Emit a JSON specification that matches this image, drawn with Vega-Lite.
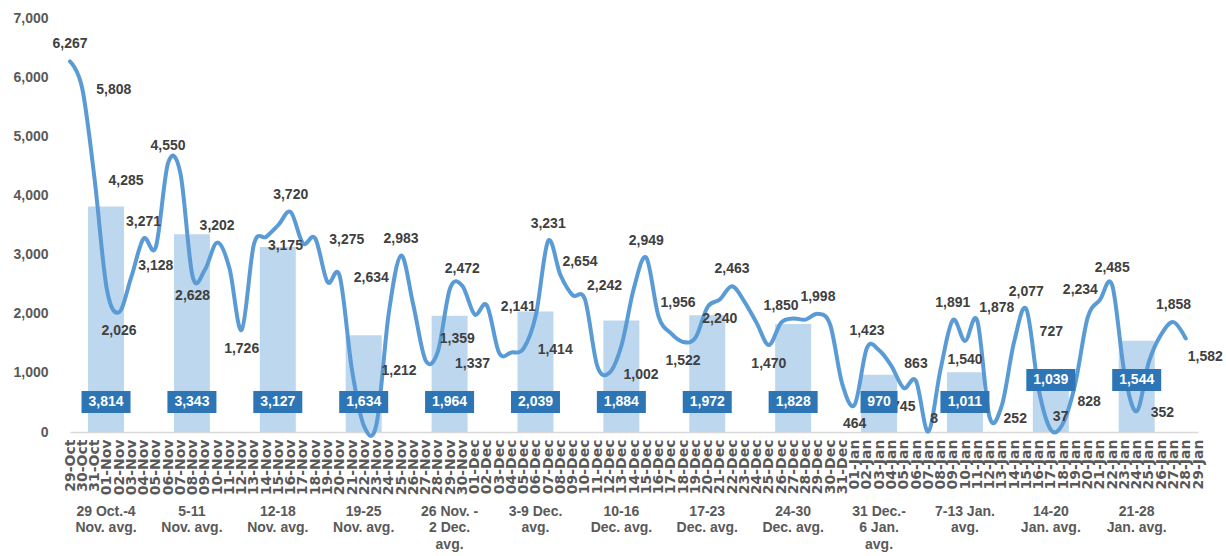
{
  "$schema": "https://vega.github.io/schema/vega-lite/v6.json",
  "width": 1128,
  "height": 414,
  "autosize": {"type": "none"},
  "padding": {"left": 70, "top": 18, "right": 28, "bottom": 124},
  "background": "white",
  "config": {"view": {"stroke": null}, "font": "Liberation Sans", "axis": {"grid": false}, "text": {"fontSize": 14, "fontWeight": "bold", "color": "#404040"}},
  "datasets": {
    "daily": [
      {"date": "2020-10-29", "value": 6267}, {"date": "2020-10-30", "value": 5808}, {"date": "2020-10-31", "value": 4285},
      {"date": "2020-11-01", "value": 2420}, {"date": "2020-11-02", "value": 2026}, {"date": "2020-11-03", "value": 2621},
      {"date": "2020-11-04", "value": 3271}, {"date": "2020-11-05", "value": 3128}, {"date": "2020-11-06", "value": 4550},
      {"date": "2020-11-07", "value": 4380}, {"date": "2020-11-08", "value": 2628}, {"date": "2020-11-09", "value": 2740},
      {"date": "2020-11-10", "value": 3202}, {"date": "2020-11-11", "value": 2773}, {"date": "2020-11-12", "value": 1726},
      {"date": "2020-11-13", "value": 3175}, {"date": "2020-11-14", "value": 3300}, {"date": "2020-11-15", "value": 3503},
      {"date": "2020-11-16", "value": 3720}, {"date": "2020-11-17", "value": 3190}, {"date": "2020-11-18", "value": 3275},
      {"date": "2020-11-19", "value": 2536}, {"date": "2020-11-20", "value": 2634}, {"date": "2020-11-21", "value": 1048},
      {"date": "2020-11-22", "value": 90}, {"date": "2020-11-23", "value": 135}, {"date": "2020-11-24", "value": 2012},
      {"date": "2020-11-25", "value": 2983}, {"date": "2020-11-26", "value": 2147}, {"date": "2020-11-27", "value": 1212},
      {"date": "2020-11-28", "value": 1359}, {"date": "2020-11-29", "value": 2430}, {"date": "2020-11-30", "value": 2472},
      {"date": "2020-12-01", "value": 1987}, {"date": "2020-12-02", "value": 2141}, {"date": "2020-12-03", "value": 1337},
      {"date": "2020-12-04", "value": 1345}, {"date": "2020-12-05", "value": 1414}, {"date": "2020-12-06", "value": 1980},
      {"date": "2020-12-07", "value": 3231}, {"date": "2020-12-08", "value": 2654}, {"date": "2020-12-09", "value": 2312},
      {"date": "2020-12-10", "value": 2242}, {"date": "2020-12-11", "value": 1120}, {"date": "2020-12-12", "value": 1002},
      {"date": "2020-12-13", "value": 1480}, {"date": "2020-12-14", "value": 2439}, {"date": "2020-12-15", "value": 2949},
      {"date": "2020-12-16", "value": 1956}, {"date": "2020-12-17", "value": 1670}, {"date": "2020-12-18", "value": 1522},
      {"date": "2020-12-19", "value": 1590}, {"date": "2020-12-20", "value": 2114}, {"date": "2020-12-21", "value": 2240},
      {"date": "2020-12-22", "value": 2463}, {"date": "2020-12-23", "value": 2205}, {"date": "2020-12-24", "value": 1845},
      {"date": "2020-12-25", "value": 1470}, {"date": "2020-12-26", "value": 1850}, {"date": "2020-12-27", "value": 1920},
      {"date": "2020-12-28", "value": 1900}, {"date": "2020-12-29", "value": 1998}, {"date": "2020-12-30", "value": 1813},
      {"date": "2020-12-31", "value": 800}, {"date": "2021-01-01", "value": 464}, {"date": "2021-01-02", "value": 1423},
      {"date": "2021-01-03", "value": 1380}, {"date": "2021-01-04", "value": 1115}, {"date": "2021-01-05", "value": 745},
      {"date": "2021-01-06", "value": 863}, {"date": "2021-01-07", "value": 8}, {"date": "2021-01-08", "value": 1060},
      {"date": "2021-01-09", "value": 1891}, {"date": "2021-01-10", "value": 1540}, {"date": "2021-01-11", "value": 1878},
      {"date": "2021-01-12", "value": 252}, {"date": "2021-01-13", "value": 448}, {"date": "2021-01-14", "value": 1520},
      {"date": "2021-01-15", "value": 2077}, {"date": "2021-01-16", "value": 727}, {"date": "2021-01-17", "value": 37},
      {"date": "2021-01-18", "value": 150}, {"date": "2021-01-19", "value": 828}, {"date": "2021-01-20", "value": 1934},
      {"date": "2021-01-21", "value": 2234}, {"date": "2021-01-22", "value": 2485}, {"date": "2021-01-23", "value": 1000},
      {"date": "2021-01-24", "value": 352}, {"date": "2021-01-25", "value": 1190}, {"date": "2021-01-26", "value": 1651},
      {"date": "2021-01-27", "value": 1858}, {"date": "2021-01-28", "value": 1582}
    ],
    "weekly": [
      {"week": "29 Oct.-4\nNov. avg.", "avg": 3814},
      {"week": "5-11\nNov. avg.", "avg": 3343},
      {"week": "12-18\nNov. avg.", "avg": 3127},
      {"week": "19-25\nNov. avg.", "avg": 1634},
      {"week": "26 Nov. -\n2 Dec.\navg.", "avg": 1964},
      {"week": "3-9 Dec.\navg.", "avg": 2039},
      {"week": "10-16\nDec. avg.", "avg": 1884},
      {"week": "17-23\nDec. avg.", "avg": 1972},
      {"week": "24-30\nDec. avg.", "avg": 1828},
      {"week": "31 Dec.-\n6 Jan.\navg.", "avg": 970},
      {"week": "7-13 Jan.\navg.", "avg": 1011},
      {"week": "14-20\nJan. avg.", "avg": 1039},
      {"week": "21-28\nJan. avg.", "avg": 1544}
    ]
  },
  "layer": [
    {
      "data": {"name": "weekly"},
      "mark": {"type": "bar", "color": "#BDD7EE"},
      "encoding": {
        "x": {
          "field": "week", "type": "nominal", "sort": null,
          "scale": {"type": "band", "paddingInner": 0.581, "paddingOuter": 0.357, "align": 0.294},
          "axis": {
            "orient": "bottom", "title": null, "offset": 68, "domain": false, "ticks": false,
            "labelAngle": 0, "labelPadding": 4, "labelFontSize": 14, "labelFontWeight": "bold",
            "labelColor": "#595959", "labelBaseline": "top", "labelLineHeight": 16.5,
            "labelExpr": "split(datum.label, '\\n')", "labelOverlap": false, "labelLimit": 0
          }
        },
        "y": {
          "field": "avg", "type": "quantitative",
          "scale": {"domain": [0, 7000]},
          "axis": {
            "title": null, "values": [0, 1000, 2000, 3000, 4000, 5000, 6000, 7000], "format": ",.0f",
            "domain": false, "ticks": false, "grid": false, "labelFontSize": 14,
            "labelFontWeight": "bold", "labelColor": "#595959", "labelPadding": 22
          }
        }
      }
    },
    {
      "data": {"name": "daily", "format": {"parse": {"date": "utc:'%Y-%m-%d'"}}},
      "encoding": {
        "x": {
          "field": "date", "type": "temporal",
          "scale": {"type": "utc", "domain": [{"year": 2020, "month": 10, "date": 29, "utc": true}, {"year": 2021, "month": 1, "date": 29, "utc": true}]},
          "axis": {
            "orient": "bottom", "title": null, "format": "%d-%b", "tickCount": {"interval": "day", "step": 1},
            "labelAngle": -90, "labelOverlap": false, "labelBound": false, "labelFlush": false,
            "ticks": false, "domainColor": "#D9D9D9", "domainWidth": 1.5, "labelFont": "DejaVu Sans", "labelFontSize": 14,
            "labelFontWeight": "bold", "labelColor": "#595959", "labelPadding": 7, "grid": false
          }
        },
        "y": {"field": "value", "type": "quantitative", "axis": {"title": null}}
      },
      "layer": [
        {
          "mark": {"type": "line", "interpolate": "cardinal", "color": "#5B9BD5", "strokeWidth": 4, "strokeCap": "round", "strokeJoin": "round"}
        },
        {
          "encoding": {"text": {"field": "value", "type": "quantitative", "format": ","}},
          "layer": [
            {
              "transform": [{"filter": "indexof(['2020-10-29','2020-11-04','2020-11-06','2020-11-10','2020-11-16','2020-11-25','2020-11-30','2020-12-07','2020-12-15','2020-12-22','2020-12-26','2020-12-29','2021-01-02','2021-01-06','2021-01-09','2021-01-15','2021-01-22','2021-01-27'], utcFormat(datum.date, '%Y-%m-%d')) >= 0"}],
              "mark": {"type": "text", "dy": -17}
            },
            {
              "transform": [{"filter": "indexof(['2020-11-02','2020-11-05','2020-11-08','2020-11-12','2020-12-18','2020-12-21','2020-12-25','2021-01-01','2021-01-05','2021-01-10'], utcFormat(datum.date, '%Y-%m-%d')) >= 0"}],
              "mark": {"type": "text", "dy": 19}
            },
            {
              "transform": [{"filter": "indexof(['2020-10-30','2020-10-31','2020-11-13','2020-11-18','2020-11-20','2020-12-02','2020-12-05','2020-12-12','2021-01-12','2021-01-24'], utcFormat(datum.date, '%Y-%m-%d')) >= 0"}],
              "mark": {"type": "text", "align": "left", "dx": 14, "dy": 2}
            },
            {
              "transform": [{"filter": "indexof(['2020-11-28','2020-12-08','2020-12-10','2020-12-16','2021-01-07','2021-01-11','2021-01-17'], utcFormat(datum.date, '%Y-%m-%d')) >= 0"}],
              "mark": {"type": "text", "align": "left", "dx": 2, "dy": -13}
            },
            {
              "transform": [{"filter": "indexof(['2021-01-16'], utcFormat(datum.date, '%Y-%m-%d')) >= 0"}],
              "mark": {"type": "text", "align": "left", "dx": 1, "dy": -57}
            },
            {
              "transform": [{"filter": "indexof(['2021-01-19','2021-01-28'], utcFormat(datum.date, '%Y-%m-%d')) >= 0"}],
              "mark": {"type": "text", "align": "left", "dx": 2, "dy": 19}
            },
            {
              "transform": [{"filter": "indexof(['2020-11-27','2020-12-03'], utcFormat(datum.date, '%Y-%m-%d')) >= 0"}],
              "mark": {"type": "text", "align": "right", "dx": -9, "dy": 11}
            },
            {
              "transform": [{"filter": "indexof(['2021-01-21'], utcFormat(datum.date, '%Y-%m-%d')) >= 0"}],
              "mark": {"type": "text", "align": "right", "dx": -2, "dy": -10}
            }
          ]
        }
      ]
    },
    {
      "data": {"name": "weekly"},
      "encoding": {
        "x": {
          "field": "week", "type": "nominal", "sort": null,
          "scale": {"type": "band", "paddingInner": 0.581, "paddingOuter": 0.357, "align": 0.294},
          "axis": null
        }
      },
      "layer": [
        {
          "transform": [{"filter": "indexof([1039, 1544], datum.avg) < 0"}],
          "layer": [
            {
              "mark": {"type": "point", "filled": true, "opacity": 1, "color": "#2E75B6", "strokeWidth": 0},
              "encoding": {
                "y": {"datum": 0},
                "yOffset": {"value": -30},
                "shape": {"condition": {"test": "datum.avg < 1000", "value": "M-1,-0.6H1V0.6H-1Z"}, "value": "M-1,-0.45H1V0.45H-1Z"},
                "size": {"condition": {"test": "datum.avg < 1000", "value": 1369}, "value": 2401}
              }
            },
            {
              "mark": {"type": "text", "color": "white", "dy": -30, "baseline": "middle"},
              "encoding": {"y": {"datum": 0}, "text": {"field": "avg", "type": "quantitative", "format": ","}}
            }
          ]
        },
        {
          "transform": [{"filter": "indexof([1039, 1544], datum.avg) >= 0"}],
          "layer": [
            {
              "mark": {"type": "point", "filled": true, "opacity": 1, "color": "#2E75B6", "strokeWidth": 0, "shape": "M-1,-0.45H1V0.45H-1Z", "size": 2401},
              "encoding": {"y": {"datum": 0}, "yOffset": {"value": -52}}
            },
            {
              "mark": {"type": "text", "color": "white", "dy": -52, "baseline": "middle"},
              "encoding": {"y": {"datum": 0}, "text": {"field": "avg", "type": "quantitative", "format": ","}}
            }
          ]
        }
      ]
    }
  ],
  "resolve": {"scale": {"x": "independent"}}
}
